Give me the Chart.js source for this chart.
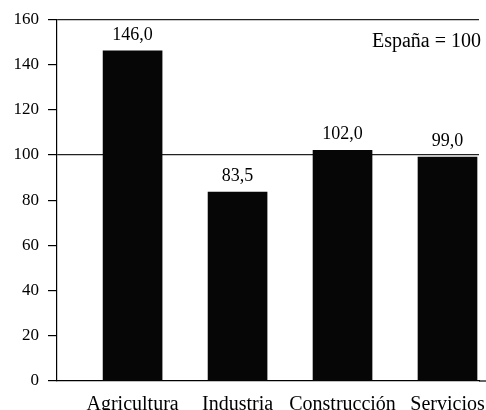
<!DOCTYPE html>
<html>
<head>
<meta charset="utf-8">
<script src="https://cdn.jsdelivr.net/npm/chart.js@4/dist/chart.umd.min.js"></script>
<style>
  body { margin: 0; background: #fff; }
  canvas { display: block; }
</style>
</head>
<body>
<canvas id="chart" width="486" height="410"></canvas>
<script>
const categories = ['Agricultura', 'Industria', 'Construcción', 'Servicios'];
const values = [146.0, 83.5, 102.0, 99.0];
const yTicks = [0, 20, 40, 60, 80, 100, 120, 140, 160];
const note = 'España = 100';

const FONT = "'Liberation Serif', 'DejaVu Serif', serif";

// value labels above the bars + the "España = 100" note
const barLabels = {
    id: 'barLabels',
    afterDatasetsDraw(chart) {
        const ctx = chart.ctx;
        const meta = chart.getDatasetMeta(0);
        ctx.save();
        ctx.fillStyle = '#000';
        ctx.font = '18px ' + FONT;
        ctx.textAlign = 'center';
        ctx.textBaseline = 'alphabetic';
        meta.data.forEach((bar, i) => {
            ctx.fillText(values[i].toFixed(1).replace('.', ','), bar.x, bar.y - 11);
        });
        ctx.font = '20px ' + FONT;
        ctx.textAlign = 'right';
        ctx.fillText(note, 481, 47);
        // bottom axis runs on to the edge
        const y0 = chart.scales.y.getPixelForValue(0);
        ctx.strokeStyle = '#000';
        ctx.lineWidth = 1.2;
        ctx.beginPath();
        ctx.moveTo(chart.chartArea.right, y0);
        ctx.lineTo(chart.width, y0);
        ctx.stroke();
        ctx.restore();
    }
};

const ctx = document.getElementById('chart').getContext('2d');
new Chart(ctx, {
    type: 'bar',
    data: {
        datasets: [{
            data: values.map((v, i) => ({ x: i, y: v })),
            backgroundColor: '#060606',
            borderWidth: 0,
            barThickness: 59
        }]
    },
    options: {
        responsive: false,
        animation: false,
        layout: { padding: { top: 18, right: 7, left: 0, bottom: 0 } },
        plugins: { legend: { display: false }, tooltip: { enabled: false } },
        scales: {
            x: {
                type: 'linear',
                offset: false,
                min: -0.72,
                max: 3.30,
                afterBuildTicks: scale => {
                    scale.ticks = categories.map((c, i) => ({ value: i }));
                },
                afterFit: scale => {
                    scale.height = 29;
                    scale.paddingLeft = 0;
                    scale.paddingRight = 0;
                },
                grid: { display: false },
                border: { display: true, color: '#000', width: 1.2 },
                ticks: {
                    autoSkip: false,
                    maxRotation: 0,
                    padding: 4,
                    color: '#000',
                    font: { family: FONT, size: 20 },
                    callback: v => categories[v]
                }
            },
            y: {
                min: 0,
                max: 160,
                afterBuildTicks: scale => {
                    scale.ticks = yTicks.map(v => ({ value: v }));
                },
                afterFit: scale => { scale.width = 57; },
                grid: {
                    drawOnChartArea: true,
                    color: c => (c.tick && (c.tick.value === 100 || c.tick.value === 160)) ? '#222' : 'rgba(0,0,0,0)',
                    tickColor: '#000',
                    tickLength: 9,
                    lineWidth: 1.2
                },
                border: { display: true, color: '#000', width: 1.2 },
                ticks: {
                    padding: 9,
                    color: '#000',
                    font: { family: FONT, size: 17 }
                }
            }
        }
    },
    plugins: [barLabels]
});
</script>
</body>
</html>
